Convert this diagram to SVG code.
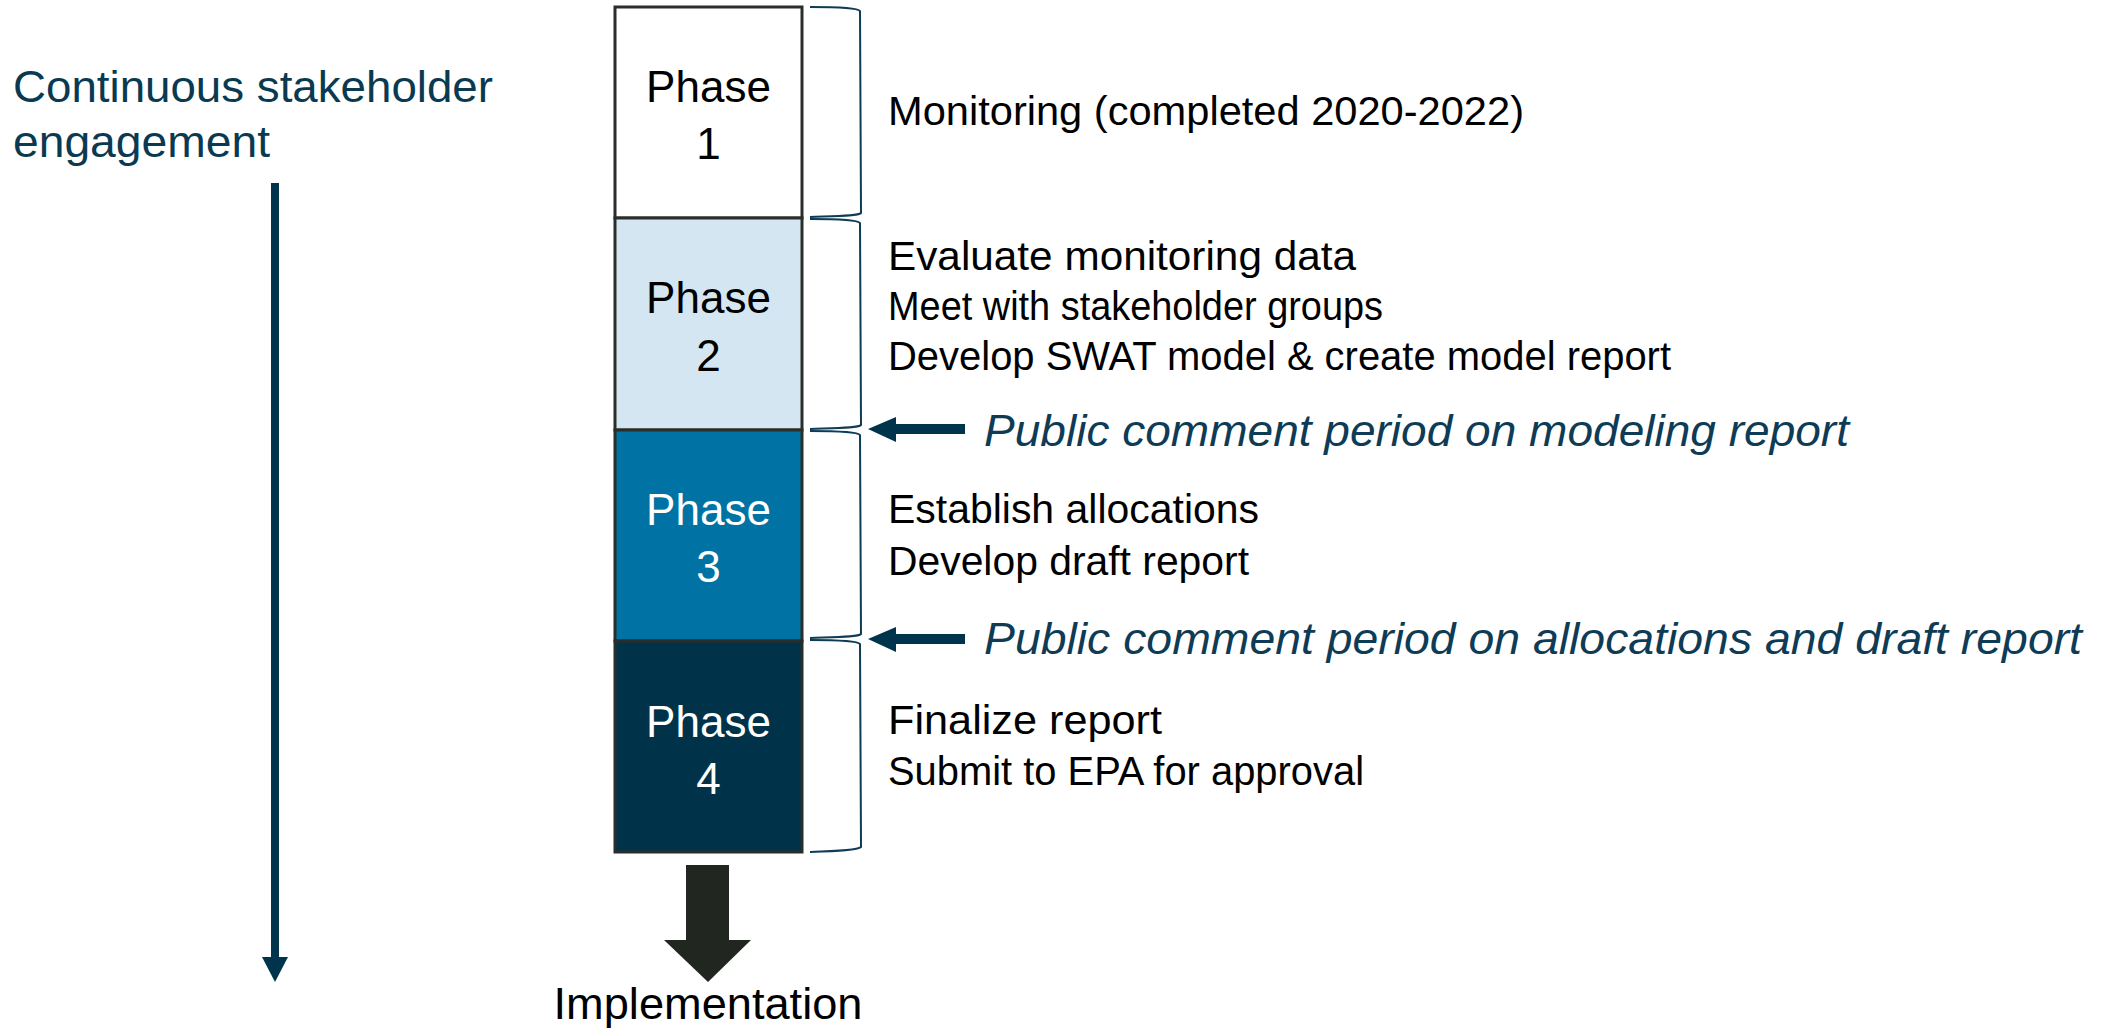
<svg xmlns="http://www.w3.org/2000/svg" width="2113" height="1028" viewBox="0 0 2113 1028">
  <style>
    .box { stroke: #2a2e2b; stroke-width: 3; }
    .ptext { font-family: "Liberation Sans", Arial, sans-serif; font-size: 44px; text-anchor: middle; }
    .desc { font-family: "Liberation Sans", Arial, sans-serif; font-size: 40px; fill: #000; }
    .pub { font-family: "Liberation Sans", Arial, sans-serif; font-size: 44px; font-style: italic; fill: #0e3b55; }
    .left { font-family: "Liberation Sans", Arial, sans-serif; font-size: 44px; fill: #0a3a52; }
    .brace { fill: none; stroke: #0e3b55; stroke-width: 2; }
  </style>
  <rect width="2113" height="1028" fill="#ffffff"/>

  <g id="stakeholder-label">
    <text class="left" x="13" y="102" textLength="480" lengthAdjust="spacingAndGlyphs">Continuous stakeholder</text>
    <text class="left" x="13" y="157" textLength="257" lengthAdjust="spacingAndGlyphs">engagement</text>
  </g>

  <g id="phase1">
    <rect class="box" x="615" y="7" width="187" height="211" fill="#ffffff"/>
    <text class="ptext" x="708.5" y="102" fill="#000">Phase</text>
    <text class="ptext" x="708.5" y="159" fill="#000">1</text>
  </g>
  <g id="phase2">
    <rect class="box" x="615" y="218" width="187" height="212" fill="#d3e6f1"/>
    <text class="ptext" x="708.5" y="313" fill="#000">Phase</text>
    <text class="ptext" x="708.5" y="371" fill="#000">2</text>
  </g>
  <g id="phase3">
    <rect class="box" x="615" y="430" width="187" height="211" fill="#0072a3"/>
    <text class="ptext" x="708.5" y="525" fill="#ffffff">Phase</text>
    <text class="ptext" x="708.5" y="582" fill="#ffffff">3</text>
  </g>
  <g id="phase4">
    <rect class="box" x="615" y="641" width="187" height="211" fill="#00334a"/>
    <text class="ptext" x="708.5" y="737" fill="#ffffff">Phase</text>
    <text class="ptext" x="708.5" y="794" fill="#ffffff">4</text>
  </g>

  <g id="desc1">
    <text class="desc" x="888" y="125" textLength="636" lengthAdjust="spacingAndGlyphs">Monitoring (completed 2020-2022)</text>
  </g>
  <g id="desc2">
    <text class="desc" x="888" y="270" textLength="468" lengthAdjust="spacingAndGlyphs">Evaluate monitoring data</text>
    <text class="desc" x="888" y="320" textLength="495" lengthAdjust="spacingAndGlyphs">Meet with stakeholder groups</text>
    <text class="desc" x="888" y="370" textLength="783" lengthAdjust="spacingAndGlyphs">Develop SWAT model &amp; create model report</text>
  </g>
  <g id="desc3">
    <text class="desc" x="888" y="523" textLength="371" lengthAdjust="spacingAndGlyphs">Establish allocations</text>
    <text class="desc" x="888" y="575" textLength="361" lengthAdjust="spacingAndGlyphs">Develop draft report</text>
  </g>
  <g id="desc4">
    <text class="desc" x="888" y="734" textLength="274" lengthAdjust="spacingAndGlyphs">Finalize report</text>
    <text class="desc" x="888" y="785" textLength="476" lengthAdjust="spacingAndGlyphs">Submit to EPA for approval</text>
  </g>

  <g id="comment1">
    <text class="pub" x="984" y="446" textLength="865" lengthAdjust="spacingAndGlyphs">Public comment period on modeling report</text>
  </g>
  <g id="comment2">
    <text class="pub" x="984" y="654" textLength="1098" lengthAdjust="spacingAndGlyphs">Public comment period on allocations and draft report</text>
  </g>

  <g id="implementation">
    <text class="ptext" x="708" y="1019" fill="#000" style="font-size:45px" textLength="309" lengthAdjust="spacingAndGlyphs">Implementation</text>
  </g>

  <g id="connectors">
    <!-- braces -->
    <path class="brace" d="M810,7 C840,7 858,8 860,11 L861,213 C858,216 840,216 810,217"/>
    <path class="brace" d="M810,219 C840,219 858,220 860,223 L861,425 C858,428 840,428 810,429"/>
    <path class="brace" d="M810,431 C840,431 858,432 860,435 L861,634 C858,637 840,637 810,638"/>
    <path class="brace" d="M810,640 C840,640 858,641 860,644 L861,847 C858,850 840,851 810,852"/>
    <!-- continuous engagement arrow -->
    <rect x="271" y="183" width="8" height="776" fill="#00344d"/>
    <polygon points="262,957 288,957 275,982" fill="#00344d"/>
    <!-- comment arrows -->
    <rect x="894" y="424" width="71" height="10" fill="#00344d"/>
    <polygon points="868,429 896,417 896,442" fill="#00344d"/>
    <rect x="894" y="634" width="71" height="10" fill="#00344d"/>
    <polygon points="868,639 896,627 896,652" fill="#00344d"/>
    <!-- implementation arrow -->
    <polygon points="686,865 729,865 729,940 751,940 708,982 664,940 686,940" fill="#222620"/>
  </g>
</svg>
